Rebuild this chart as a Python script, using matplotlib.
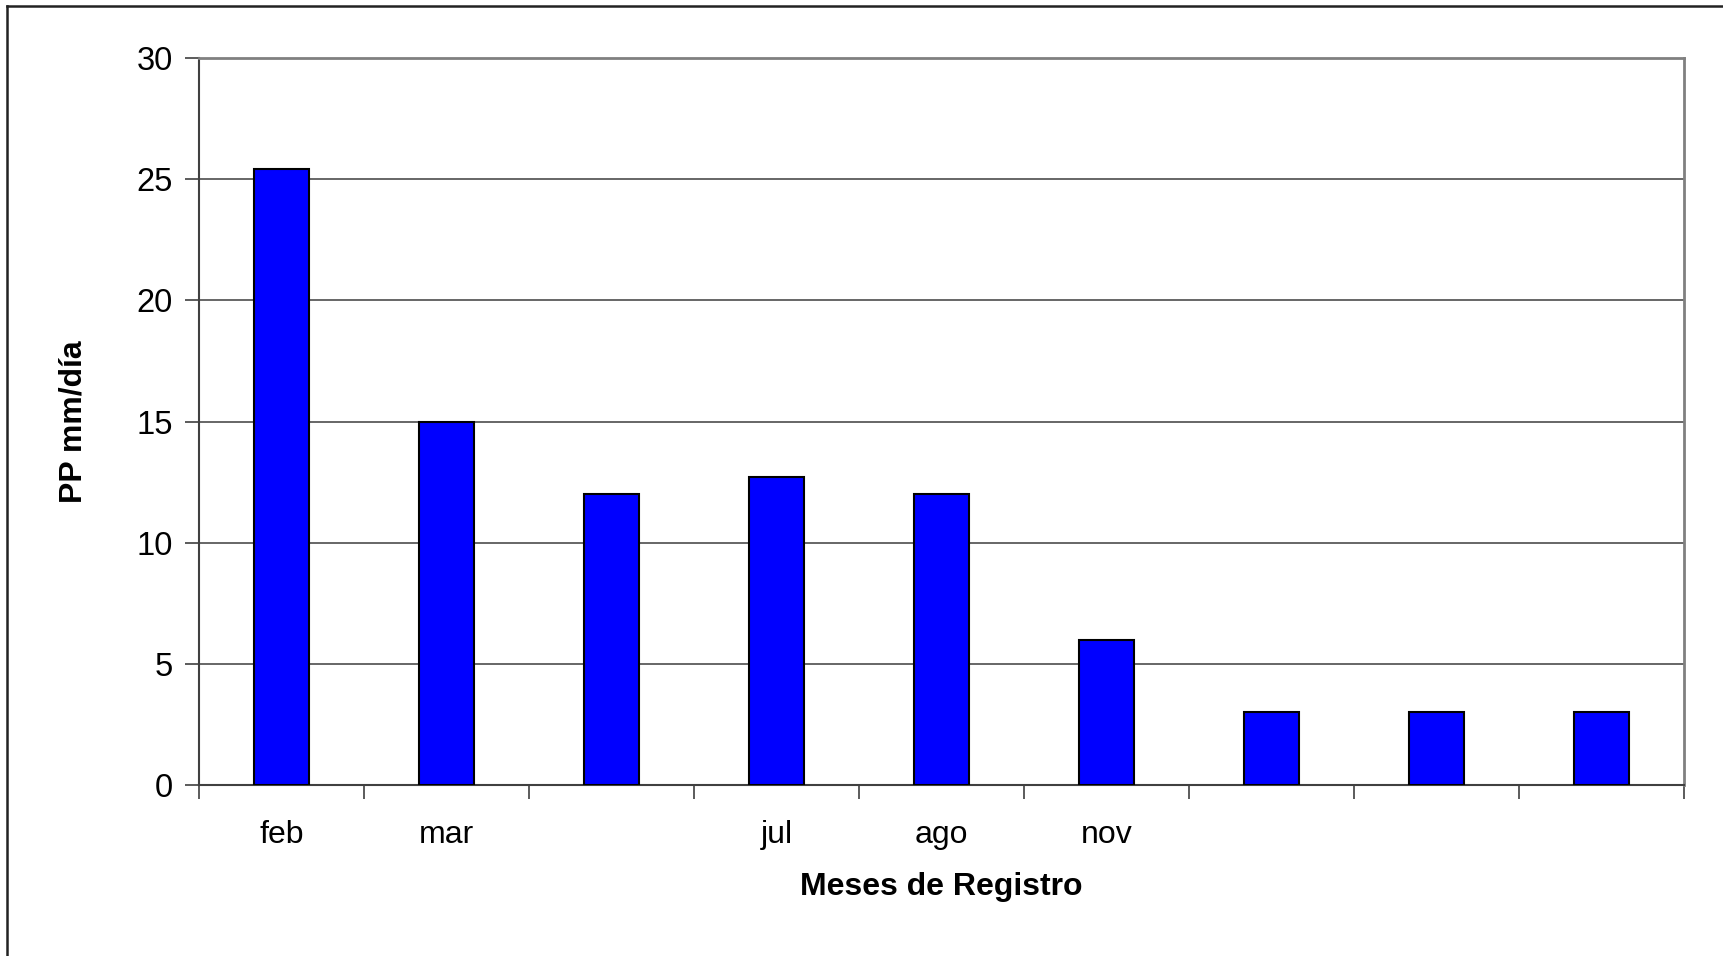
import numpy as np
import matplotlib.pyplot as plt
from matplotlib.lines import Line2D

# Data
meses = ['feb', 'mar', '', 'jul', 'ago', 'nov', '', '', '']
pp = [25.4, 15.0, 12.0, 12.7, 12.0, 6.0, 3.0, 3.0, 3.0]
y_ticks = [0, 5, 10, 15, 20, 25, 30]

plt.rcParams['font.family'] = ['Liberation Sans', 'DejaVu Sans']

W, H = 1723, 956
fig = plt.figure(figsize=(W / 100, H / 100), dpi=100)
ax = fig.add_axes([199 / W, 1 - 785 / H, (1684 - 199) / W, (785 - 58) / H])

x = np.arange(len(pp))
ax.bar(x, pp, width=1 / 3, color='#0000FF', edgecolor='black', linewidth=1.5, zorder=3)

ax.set_xlim(-0.5, len(pp) - 0.5)
ax.set_ylim(0, 30)
ax.set_yticks(y_ticks)
ax.yaxis.grid(True, color='#4d4d4d', linewidth=1.2, zorder=0)

# tick marks between categories, labels at the centers
ax.set_xticks(np.arange(len(pp) + 1) - 0.5)
ax.set_xticklabels([])
ax.set_xticks(x, minor=True)
ax.set_xticklabels(meses, minor=True)
ax.tick_params(axis='x', which='major', length=10, width=1.2, color='#404040', direction='out')
ax.tick_params(axis='x', which='minor', length=0, pad=25, labelsize=23)
ax.tick_params(axis='y', length=10, width=1.2, color='#404040', pad=9, labelsize=23.5)

for side in ['left', 'bottom']:
    ax.spines[side].set_color('#404040')
    ax.spines[side].set_linewidth(1.5)
for side in ['top', 'right']:
    ax.spines[side].set_color('#808080')
    ax.spines[side].set_linewidth(2)

ax.set_xlabel('Meses de Registro', fontsize=23, fontweight='bold', labelpad=16)
ax.set_ylabel('PP mm/día', fontsize=23, fontweight='bold', labelpad=34)

# outer chart frame (left and top edges visible)
fig.add_artist(Line2D([7 / W, 7 / W], [0, 1 - 6 / H], color='#222222', linewidth=1.8))
fig.add_artist(Line2D([7 / W, 1], [1 - 6 / H, 1 - 6 / H], color='#222222', linewidth=1.8))

fig.savefig('out.png', dpi=100, facecolor='white')
